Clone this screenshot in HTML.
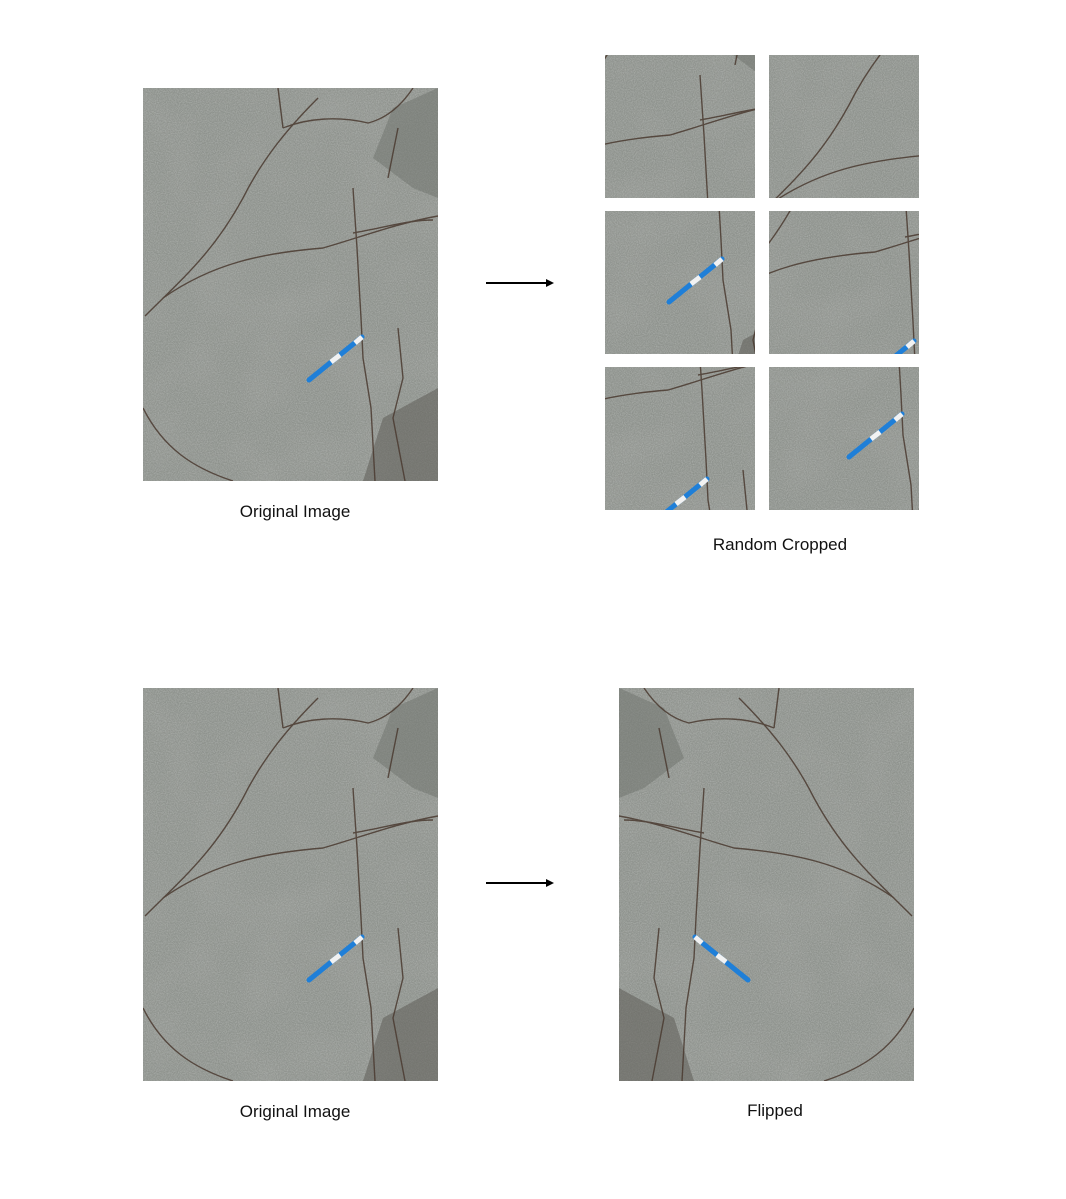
<!DOCTYPE html>
<html><head><meta charset="utf-8"><style>
html,body{margin:0;padding:0;background:#fff;}
body{width:1066px;height:1199px;position:relative;overflow:hidden;font-family:"Liberation Sans",sans-serif;}
.lbl{position:absolute;font-size:17px;color:#111;transform:translateX(-50%);white-space:nowrap;}
svg.img{position:absolute;display:block;}
</style></head><body>
<svg width="0" height="0" style="position:absolute">
<defs>
<filter id="tex" x="0" y="0" width="100%" height="100%">
<feTurbulence type="fractalNoise" baseFrequency="0.9" numOctaves="2" seed="3" result="n"/>
<feColorMatrix in="n" type="matrix" values="0 0 0 0 0.55  0 0 0 0 0.57  0 0 0 0 0.55  0 0 0 -1.6 1.1"/>
</filter>
<filter id="blot" x="0" y="0" width="100%" height="100%">
<feTurbulence type="fractalNoise" baseFrequency="0.02" numOctaves="2" seed="7" result="n"/>
<feColorMatrix in="n" type="matrix" values="0 0 0 0 0.35  0 0 0 0 0.36  0 0 0 0 0.34  0 0 0 -1.2 0.75"/>
</filter>
<g id="rock">
<rect x="0" y="0" width="295" height="393" fill="#8e928d"/>
<rect x="0" y="0" width="295" height="393" filter="url(#blot)" opacity="0.5"/>
<rect x="0" y="0" width="295" height="393" filter="url(#tex)" opacity="0.55"/>
<path d="M250 20 L295 0 L295 110 L270 100 L230 70 Z" fill="#6e716c" opacity="0.5"/>
<path d="M240 330 L295 300 L295 393 L220 393 Z" fill="#5e5c57" opacity="0.55"/>
<g fill="none" stroke="#4a3a30" stroke-width="1.4" opacity="0.85">
<path d="M2 228 C40 190 70 165 100 110 C120 70 145 40 175 10"/>
<path d="M20 210 C70 175 120 165 180 160 C215 150 255 135 295 128"/>
<path d="M210 100 L214 160 L218 230 L220 270 L228 320 L232 393"/>
<path d="M140 40 C165 30 195 28 225 35 C245 30 260 15 270 0"/>
<path d="M135 0 L140 40"/>
<path d="M210 145 C240 140 265 132 290 132"/>
<path d="M255 240 L260 290 L250 330 L262 393"/>
<path d="M0 320 C20 360 50 380 90 393"/>
<path d="M255 40 L245 90"/>
</g>
<g>
<line x1="166" y1="292" x2="219" y2="249" stroke="#1f7fd8" stroke-width="5" stroke-linecap="round"/>
<line x1="188" y1="274" x2="197" y2="267" stroke="#f2f2f2" stroke-width="5"/>
<line x1="212" y1="255" x2="219" y2="249" stroke="#f2f2f2" stroke-width="5"/>
</g>
</g>
</defs>
</svg>

<svg class="img" style="left:143px;top:88px" width="295" height="393" viewBox="0 0 295 393"><use href="#rock"/></svg>
<div class="lbl" style="left:295px;top:502px">Original Image</div>

<svg class="img" style="left:486px;top:278px" width="70" height="10"><line x1="0" y1="5" x2="62" y2="5" stroke="#000" stroke-width="2"/><polygon points="60,1 68,5 60,9" fill="#000"/></svg>

<svg class="img" style="left:605px;top:55px" width="150" height="143" viewBox="115 80 150 143"><use href="#rock"/></svg>
<svg class="img" style="left:769px;top:55px" width="150" height="143" viewBox="20 60 150 143"><use href="#rock"/></svg>
<svg class="img" style="left:605px;top:211px" width="150" height="143" viewBox="102 201 150 143"><use href="#rock"/></svg>
<svg class="img" style="left:769px;top:211px" width="150" height="143" viewBox="74 119 150 143"><use href="#rock"/></svg>
<svg class="img" style="left:605px;top:367px" width="150" height="143" viewBox="117 137 150 143"><use href="#rock"/></svg>
<svg class="img" style="left:769px;top:367px" width="150" height="143" viewBox="86 202 150 143"><use href="#rock"/></svg>
<div class="lbl" style="left:780px;top:535px">Random Cropped</div>

<svg class="img" style="left:143px;top:688px" width="295" height="393" viewBox="0 0 295 393"><use href="#rock"/></svg>
<div class="lbl" style="left:295px;top:1102px">Original Image</div>

<svg class="img" style="left:486px;top:878px" width="70" height="10"><line x1="0" y1="5" x2="62" y2="5" stroke="#000" stroke-width="2"/><polygon points="60,1 68,5 60,9" fill="#000"/></svg>

<svg class="img" style="left:619px;top:688px" width="295" height="393" viewBox="0 0 295 393"><g transform="translate(295,0) scale(-1,1)"><use href="#rock"/></g></svg>
<div class="lbl" style="left:775px;top:1101px">Flipped</div>
</body></html>
